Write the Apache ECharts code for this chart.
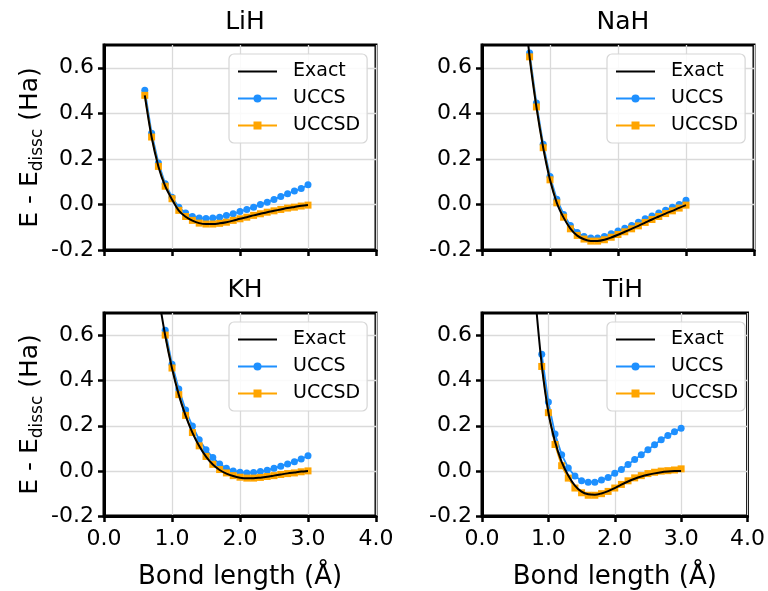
<!DOCTYPE html>
<html>
<head>
<meta charset="utf-8" />
<title>Dissociation curves</title>
<script src="https://cdn.jsdelivr.net/npm/echarts@6/dist/echarts.min.js"></script>
</head>
<body style="margin:0; background:#fff">
<div id="main" style="width:768px; height:591px"></div>
<script type="text/javascript">
// ---- data (energies in Ha, bond length in angstrom) ----
var molecules = ['LiH', 'NaH', 'KH', 'TiH'];
var seriesNames = ['Exact', 'UCCS', 'UCCSD'];
var xTicks = [0, 1, 2, 3, 4];
var yTicks = [-0.2, 0, 0.2, 0.4, 0.6];

var lihX = [0.6,0.7,0.8,0.9,1.0,1.1,1.2,1.3,1.4,1.5,1.6,1.7,1.8,1.9,2.0,2.1,2.2,2.3,2.4,2.5,2.6,2.7,2.8,2.9,3.0];
var lihExact = [0.479,0.296,0.167,0.08,0.022,-0.027,-0.054,-0.071,-0.082,-0.086,-0.086,-0.083,-0.078,-0.071,-0.063,-0.056,-0.048,-0.041,-0.034,-0.028,-0.022,-0.016,-0.011,-0.006,-0.002];
var lihUccs = [0.501,0.313,0.182,0.091,0.032,-0.012,-0.038,-0.053,-0.06,-0.062,-0.06,-0.056,-0.048,-0.041,-0.031,-0.022,-0.012,0.0,0.010,0.022,0.035,0.047,0.059,0.070,0.086];
var lihUccsd = [0.479,0.296,0.167,0.08,0.025,-0.026,-0.053,-0.07,-0.082,-0.086,-0.086,-0.083,-0.078,-0.07,-0.063,-0.056,-0.048,-0.041,-0.034,-0.028,-0.022,-0.016,-0.012,-0.007,-0.003];

var nahExactX = [0.6,0.7,0.8,0.9,1.0,1.1,1.2,1.3,1.4,1.5,1.6,1.7,1.8,1.9,2.0,2.1,2.2,2.3,2.4,2.5,2.6,2.7,2.8,2.9,3.0];
var nahExact = [0.95,0.648,0.428,0.249,0.108,0.007,-0.058,-0.106,-0.137,-0.153,-0.16,-0.16,-0.155,-0.145,-0.133,-0.12,-0.107,-0.094,-0.08,-0.066,-0.053,-0.04,-0.028,-0.015,-0.003];
var nahX = [0.7,0.8,0.9,1.0,1.1,1.2,1.3,1.4,1.5,1.6,1.7,1.8,1.9,2.0,2.1,2.2,2.3,2.4,2.5,2.6,2.7,2.8,2.9,3.0];
var nahUccs = [0.665,0.445,0.264,0.123,0.023,-0.044,-0.092,-0.123,-0.141,-0.147,-0.147,-0.141,-0.129,-0.117,-0.105,-0.092,-0.078,-0.063,-0.051,-0.038,-0.026,-0.012,0.0,0.018];
var nahUccsd = [0.648,0.428,0.249,0.108,0.007,-0.056,-0.107,-0.136,-0.152,-0.161,-0.161,-0.155,-0.144,-0.132,-0.12,-0.107,-0.094,-0.079,-0.066,-0.053,-0.04,-0.028,-0.016,-0.003];

var khExactX = [0.8,0.9,1.0,1.1,1.2,1.3,1.4,1.5,1.6,1.7,1.8,1.9,2.0,2.1,2.2,2.3,2.4,2.5,2.6,2.7,2.8,2.9,3.0];
var khExact = [0.78,0.60,0.455,0.337,0.245,0.17,0.11,0.063,0.028,0.004,-0.012,-0.023,-0.03,-0.033,-0.033,-0.03,-0.026,-0.021,-0.016,-0.011,-0.007,-0.003,0.0];
var khX = [0.9,1.0,1.1,1.2,1.3,1.4,1.5,1.6,1.7,1.8,1.9,2.0,2.1,2.2,2.3,2.4,2.5,2.6,2.7,2.8,2.9,3.0];
var khUccs = [0.624,0.473,0.363,0.270,0.199,0.138,0.094,0.059,0.031,0.012,0.0,-0.006,-0.009,-0.007,-0.003,0.003,0.012,0.021,0.031,0.041,0.053,0.067];
var khUccsd = [0.602,0.456,0.338,0.246,0.170,0.111,0.064,0.029,0.006,-0.009,-0.021,-0.028,-0.032,-0.032,-0.029,-0.025,-0.021,-0.016,-0.012,-0.009,-0.004,0.0];

var tihExactX = [0.8,0.9,1.0,1.1,1.2,1.3,1.4,1.5,1.6,1.7,1.8,1.9,2.0,2.1,2.2,2.3,2.4,2.5,2.6,2.7,2.8,2.9,3.0];
var tihExact = [0.78,0.47,0.26,0.13,0.04,-0.02,-0.065,-0.092,-0.104,-0.106,-0.1,-0.09,-0.076,-0.061,-0.047,-0.035,-0.025,-0.017,-0.011,-0.006,-0.003,-0.001,0.0];
var tihX = [0.9,1.0,1.1,1.2,1.3,1.4,1.5,1.6,1.7,1.8,1.9,2.0,2.1,2.2,2.3,2.4,2.5,2.6,2.7,2.8,2.9,3.0];
var tihUccs = [0.517,0.305,0.163,0.072,0.013,-0.023,-0.044,-0.05,-0.05,-0.04,-0.029,-0.01,0.006,0.028,0.05,0.072,0.094,0.116,0.138,0.157,0.173,0.189];
var tihUccsd = [0.463,0.258,0.117,0.023,-0.032,-0.076,-0.097,-0.108,-0.108,-0.101,-0.091,-0.076,-0.06,-0.044,-0.031,-0.021,-0.012,-0.006,-0.001,0.001,0.004,0.009];

var panelData = [
  {exactX: lihX, exact: lihExact, x: lihX, uccs: lihUccs, uccsd: lihUccsd},
  {exactX: nahExactX, exact: nahExact, x: nahX, uccs: nahUccs, uccsd: nahUccsd},
  {exactX: khExactX, exact: khExact, x: khX, uccs: khUccs, uccsd: khUccsd},
  {exactX: tihExactX, exact: tihExact, x: tihX, uccs: tihUccs, uccsd: tihUccsd}
];

function pairs(xs, ys) {
  return xs.map(function (x, i) { return [x, ys[i]]; });
}

var FONT = 'DejaVu Sans';
var panelPos = [
  {left: 104, top: 45}, {left: 482, top: 45},
  {left: 104, top: 313}, {left: 482, top: 313}
];
var PW = 272, PH = 205;

var option = {
  animation: false,
  textStyle: {fontFamily: FONT, color: '#000'},
  title: [], grid: [], xAxis: [], yAxis: [], legend: [], series: []
};

panelPos.forEach(function (p, i) {
  var bottomRow = i >= 2, leftCol = (i % 2 === 0);
  option.title.push({
    text: molecules[i], left: p.left + PW / 2, top: p.top - 40, textAlign: 'center',
    textStyle: {fontFamily: FONT, fontSize: 25, fontWeight: 'normal', color: '#000'}
  });
  option.grid.push({
    left: p.left, top: p.top, width: PW, height: PH,
    show: true, borderColor: '#000', borderWidth: 3, backgroundColor: 'transparent'
  });
  option.xAxis.push({
    type: 'value', gridIndex: i, min: 0, max: 4, interval: 1,
    name: bottomRow ? 'Bond length (Å)' : '', nameLocation: 'middle', nameGap: 48,
    nameTextStyle: {fontFamily: FONT, fontSize: 26, color: '#000'},
    axisLine: {show: true, onZero: false, lineStyle: {color: '#000', width: 3}},
    axisTick: {show: true, inside: false, length: 6, lineStyle: {color: '#000', width: 2.5}},
    axisLabel: {show: bottomRow, fontFamily: FONT, fontSize: 22, color: '#000', margin: 12,
      formatter: function (v) { return v.toFixed(1); }},
    splitLine: {show: true, lineStyle: {color: '#dadada', width: 1.3}}
  });
  option.yAxis.push({
    type: 'value', gridIndex: i, min: -0.2, max: 0.7, interval: 0.2,
    name: leftCol ? '{n|E - E}{s|dissc}{n| (Ha)}' : '', nameLocation: 'middle', nameGap: 58,
    nameTextStyle: {
      fontFamily: FONT, color: '#000',
      rich: {
        n: {fontFamily: FONT, fontSize: 25, lineHeight: 32, verticalAlign: 'middle', color: '#000'},
        s: {fontFamily: FONT, fontSize: 17, lineHeight: 17, verticalAlign: 'bottom', color: '#000'}
      }
    },
    axisLine: {show: true, onZero: false, lineStyle: {color: '#000', width: 3}},
    axisTick: {show: true, inside: false, length: 6, customValues: yTicks, lineStyle: {color: '#000', width: 2.5}},
    axisLabel: {fontFamily: FONT, fontSize: 22, color: '#000', margin: 10, customValues: yTicks,
      formatter: function (v) { return v.toFixed(1); }},
    splitLine: {show: true, lineStyle: {color: '#dadada', width: 1.3}}
  });
  option.legend.push({
    data: [{name: 'Exact', itemStyle: {opacity: 0}}, 'UCCS', 'UCCSD'],
    orient: 'vertical', left: p.left + 125, top: p.top + 9,
    itemWidth: 39, itemHeight: 10, itemGap: 8, padding: [8, 7, 8, 8],
    backgroundColor: 'rgba(255,255,255,0.85)', borderColor: '#d6d6d6', borderWidth: 1.2, borderRadius: 5,
    textStyle: {fontFamily: FONT, fontSize: 19, color: '#000', padding: [0, 0, 0, 11]},
    selectedMode: false
  });
  var d = panelData[i];
  option.series.push({
    name: 'Exact', type: 'line', xAxisIndex: i, yAxisIndex: i, z: 4,
    data: pairs(d.exactX, d.exact), smooth: 0.3, symbol: 'none',
    lineStyle: {color: '#000', width: 2}, itemStyle: {color: '#000'}
  });
  option.series.push({
    name: 'UCCS', type: 'line', xAxisIndex: i, yAxisIndex: i, z: 2,
    data: pairs(d.x, d.uccs), symbol: 'circle', symbolSize: 7,
    lineStyle: {color: '#1E90FF', width: 1.8}, itemStyle: {color: '#1E90FF'}
  });
  option.series.push({
    name: 'UCCSD', type: 'line', xAxisIndex: i, yAxisIndex: i, z: 3,
    data: pairs(d.x, d.uccsd), symbol: 'rect', symbolSize: 7,
    lineStyle: {color: '#FFA500', width: 1.8}, itemStyle: {color: '#FFA500'}
  });
});

var chart = echarts.init(document.getElementById('main'), null, {renderer: 'canvas'});
chart.setOption(option);
</script>
</body>
</html>
